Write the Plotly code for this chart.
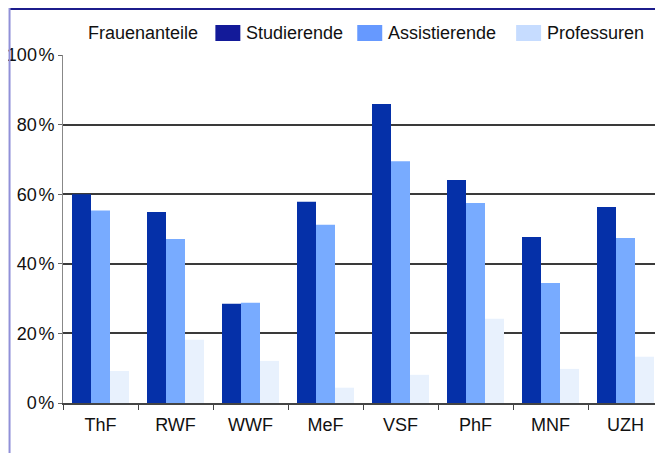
import plotly.graph_objects as go

categories = ["ThF", "RWF", "WWF", "MeF", "VSF", "PhF", "MNF", "UZH"]
studierende = [60.0, 54.9, 28.5, 57.8, 85.9, 64.1, 47.7, 56.3]
assistierende = [55.3, 47.1, 28.8, 51.2, 69.5, 57.5, 34.5, 47.4]
professuren = [9.2, 18.2, 12.1, 4.4, 8.1, 24.2, 9.8, 13.3]
series_names = ["Studierende", "Assistierende", "Professuren"]
legend_title = "Frauenanteile"
y_tickvals = [0, 20, 40, 60, 80, 100]
y_ticktext = ["0\u200a%", "20\u200a%", "40\u200a%", "60\u200a%", "80\u200a%", "100\u200a%"]

bar_colors = ["#0530A8", "#78ABFF", "#E8F1FD"]
swatch_colors = ["#131A99", "#6699FF", "#C6DCFF"]
FONT = "Liberation Sans, Arial, sans-serif"
TXT = "#111111"

OFF = 8  # page offset of the figure div
W, H = 663, 453
# plot area in screen pixels
SL, SR, ST, SB = 62.5, 663, 55, 403.3
L = SL - OFF
T = ST - OFF
R = W - (SR - OFF)
B = H - (SB - OFF)
pw, ph = W - L - R, H - T - B

def px(x):
    return (x - OFF - L) / pw

def py(y):
    return (H - B - (y - OFF)) / ph

fig = go.Figure()
for name, vals, col in zip(series_names, [studierende, assistierende, professuren], bar_colors):
    fig.add_trace(go.Bar(x=categories, y=vals, name=name, marker_color=col,
                         marker_line_width=0, showlegend=False))

shapes = []
annotations = []
annotations.append(dict(text=legend_title, xref="paper", yref="paper", x=px(86), y=py(33),
                        xanchor="left", yanchor="middle", showarrow=False,
                        font=dict(family=FONT, size=18, color=TXT)))
sw_x = [215, 357, 516]
for name, col, sx in zip(series_names, swatch_colors, sw_x):
    shapes.append(dict(type="rect", xref="paper", yref="paper", x0=px(sx), x1=px(sx + 25),
                       y0=py(41), y1=py(25), fillcolor=col, line_width=0, layer="above"))
    annotations.append(dict(text=name, xref="paper", yref="paper", x=px(sx + 29), y=py(33),
                            xanchor="left", yanchor="middle", showarrow=False,
                            font=dict(family=FONT, size=18, color=TXT)))
# frame lines
shapes.append(dict(type="line", xref="paper", yref="paper", x0=px(9), x1=px(680),
                   y0=py(9), y1=py(9), line=dict(color="#1C1C8C", width=2)))
shapes.append(dict(type="line", xref="paper", yref="paper", x0=px(9), x1=px(9),
                   y0=py(8), y1=py(470), line=dict(color="#9090D8", width=2)))

fig.update_layout(
    width=W, height=H,
    margin=dict(l=L, r=R, t=T, b=B, pad=0, autoexpand=False),
    paper_bgcolor="white", plot_bgcolor="white",
    barmode="group", bargap=0.24, bargroupgap=0,
    font=dict(family=FONT, size=18, color=TXT),
    shapes=shapes, annotations=annotations,
    showlegend=False,
)
fig.update_xaxes(
    automargin=False,
    showline=True, linecolor="#444444", linewidth=2,
    ticks="outside", tickson="boundaries", ticklen=5, tickcolor="#444444", tickwidth=1,
    tickfont=dict(family=FONT, size=18, color=TXT), ticklabelstandoff=4,
    showgrid=False,
)
fig.update_yaxes(
    automargin=False,
    range=[0, 100], tickvals=y_tickvals, ticktext=y_ticktext,
    showline=True, linecolor="#888888", linewidth=1,
    ticks="outside", ticklen=4, tickcolor="#666666",
    showgrid=True, gridcolor="#3A3A3A", gridwidth=1.5,
    tickfont=dict(family=FONT, size=18, color=TXT),
    zeroline=False,
)

fig.write_html("out.html")
